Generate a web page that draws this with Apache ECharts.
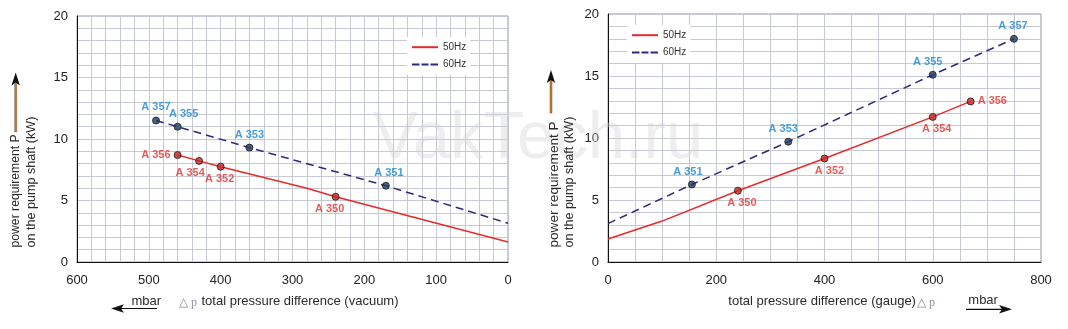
<!DOCTYPE html>
<html><head><meta charset="utf-8">
<script src="https://cdn.jsdelivr.net/npm/echarts@6/dist/echarts.min.js"></script>
<style>html,body{margin:0;padding:0;background:#fff}#c{width:1068px;height:329px}</style>
</head><body><div id="c"></div>
<script>
// ---- data ----
const vacTicks = [0,100,200,300,400,500,600];
const gaugeTicks = [0,200,400,600,800];
const powerTicks = [0,5,10,15,20];
const seriesNames = ['50Hz','60Hz'];
// vacuum chart (left)
const vac50Line = [[460,8.7],[430,8.22],[400,7.75],[280,6.0],[240,5.3],[0,1.62]];
const vac60Line = [[490,11.5],[460,11.0],[360,9.3],[170,6.2],[0,3.15]];
const vac50Names = ['A 356','A 354','A 352','A 350'];
const vac50X = [460,430,400,240];
const vac50Y = [8.7,8.22,7.75,5.3];
const vac60Names = ['A 357','A 355','A 353','A 351'];
const vac60X = [490,460,360,170];
const vac60Y = [11.5,11.0,9.3,6.2];
// gauge chart (right)
const gau50Line = [[0,1.85],[100,3.3],[240,5.75],[400,8.35],[600,11.7],[670,12.95]];
const gau60Line = [[0,3.1],[155,6.25],[333,9.7],[600,15.1],[750,18.0]];
const gau50Names = ['A 350','A 352','A 354','A 356'];
const gau50X = [240,400,600,670];
const gau50Y = [5.75,8.35,11.7,12.95];
const gau60Names = ['A 351','A 353','A 355','A 357'];
const gau60X = [155,333,600,750];
const gau60Y = [6.25,9.7,15.1,18.0];

// ---- styles ----
const RED = '#e52b2b', NAVY = '#2d2a7e', LBLUE = '#1a86d0', LRED = '#e03333';
const GRID = '#c6c9d1';
const FONT = '"Liberation Sans", Arial, sans-serif';
const labelStyle = {
  vac: {'A 357':{p:'top',o:[0,-1]}, 'A 355':{p:'top',o:[6,0]}, 'A 353':{p:'top',o:[0,0]}, 'A 351':{p:'top',o:[3,0]},
        'A 356':{p:'left',o:[0,0]}, 'A 354':{p:'bottom',o:[-9,0]}, 'A 352':{p:'bottom',o:[-1,0]}, 'A 350':{p:'bottom',o:[-6,0]}},
  gau: {'A 351':{p:'top',o:[-4,0]}, 'A 353':{p:'top',o:[-5,0]}, 'A 355':{p:'top',o:[-5,0]}, 'A 357':{p:'top',o:[-1,0]},
        'A 350':{p:'bottom',o:[4,0]}, 'A 352':{p:'bottom',o:[5,0]}, 'A 354':{p:'bottom',o:[4,0]}, 'A 356':{p:'right',o:[0,0]}}
};
function pts(names, xs, ys, key, lblColor, fill) {
  return names.map((n,i)=>({
    name:n, value:[xs[i],ys[i]],
    itemStyle:{color:fill, borderColor:'#1a1a1a', borderWidth:1},
    label:{show:true, formatter:n, position:labelStyle[key][n].p, offset:labelStyle[key][n].o,
      distance:3, color:lblColor, fontWeight:'bold', fontSize:11, fontFamily:FONT}
  }));
}
function xAx(idx, max, interval, minorN, inverse) {
  return {type:'value', gridIndex:idx, min:0, max:max, interval:interval, inverse:inverse,
    axisLine:{show:true, onZero:false, lineStyle:{color:'#111', width:1}},
    axisTick:{show:false},
    axisLabel:{fontSize:13, color:'#222', margin:12, fontFamily:FONT},
    splitLine:{show:true, lineStyle:{color:GRID, width:1}},
    minorTick:{show:false, splitNumber:minorN},
    minorSplitLine:{show:true, lineStyle:{color:GRID, width:1}}};
}
function yAx(idx) {
  return {type:'value', gridIndex:idx, min:powerTicks[0], max:powerTicks[powerTicks.length-1], interval:powerTicks[1]-powerTicks[0],
    axisLine:{show:true, onZero:false, lineStyle:{color:'#111', width:1}},
    axisTick:{show:false},
    axisLabel:{fontSize:13, color:'#222', margin:9, fontFamily:FONT},
    splitLine:{show:true, lineStyle:{color:GRID, width:1}},
    minorTick:{show:false, splitNumber:5},
    minorSplitLine:{show:true, lineStyle:{color:GRID, width:1}}};
}
function lineS(name, data, xi, dashed, color) {
  return {type:'line', name:name, xAxisIndex:xi, yAxisIndex:xi, data:data, symbol:'none',
    lineStyle:{color:color, width:1.5, type: dashed ? [8,5] : 'solid'}, itemStyle:{color:color}, z:3};
}
function scat(name, data, xi) {
  return {type:'scatter', name:name, xAxisIndex:xi, yAxisIndex:xi, data:data, symbolSize:7, z:4};
}
const ICON_SOLID = 'path://M0,0h26v2h-26z';
const ICON_DASH = 'path://M0,0h7.5v2h-7.5zM9.5,0h7v2h-7zM18.5,0h7.5v2h-7.5z';
const legendBase = {orient:'vertical', itemWidth:26, itemHeight:2, itemGap:5,
  backgroundColor:'#fff', padding:[4,4,4,5],
  data:[{name:seriesNames[0], icon:ICON_SOLID},{name:seriesNames[1], icon:ICON_DASH}],
  textStyle:{fontSize:10, color:'#333', fontFamily:FONT, lineHeight:12.4}};

const arrowHeadUp = (x,y)=>[[x,y],[x-4.2,y+13],[x,y+10],[x+4.2,y+13]];
const txt = (x,y,text,extra)=>Object.assign({type:'text', x:x, y:y, z:10,
  style:Object.assign({text:text, fill:'#2a2a2a', font:'13px '+FONT, textAlign:'left', textVerticalAlign:'middle'}, extra||{})});

const graphic = [
  {type:'text', x:373, y:140, z:1, silent:true,
   style:{text:'VakTech.ru', fill:'rgba(210,210,210,0.38)', font:'67px '+FONT, textAlign:'left', textVerticalAlign:'middle'}},
  // left y-axis name
  Object.assign(txt(15.3,247.5,'power requirement P',{font:'12.2px '+FONT}),{rotation:Math.PI/2}),
  Object.assign(txt(32,247.5,'on the pump shaft (kW)',{font:'12.6px '+FONT}),{rotation:Math.PI/2}),
  {type:'rect', z:10, shape:{x:14.7,y:82,width:2,height:50}, style:{fill:'#d9801f', stroke:'#333', lineWidth:0.4}},
  {type:'polygon', z:10, shape:{points:arrowHeadUp(15.7,72.5)}, style:{fill:'#111'}},
  // right y-axis name
  Object.assign(txt(554.3,247.5,'power requirement P',{font:'13.6px '+FONT}),{rotation:Math.PI/2}),
  Object.assign(txt(570,247.5,'on the pump shaft (kW)',{font:'12.6px '+FONT}),{rotation:Math.PI/2}),
  {type:'rect', z:10, shape:{x:550,y:80,width:2,height:33}, style:{fill:'#d9801f', stroke:'#333', lineWidth:0.4}},
  {type:'polygon', z:10, shape:{points:arrowHeadUp(551,70)}, style:{fill:'#111'}},
  // left x-axis name
  txt(131.5,301.5,'mbar'),
  {type:'line', z:10, shape:{x1:120,y1:308.5,x2:157,y2:308.5}, style:{stroke:'#111', lineWidth:1.2}},
  {type:'polygon', z:10, shape:{points:[[111,308.5],[124,304.3],[121,308.5],[124,312.7]]}, style:{fill:'#111'}},
  txt(179,302.5,'\u25B3 p',{fill:'#8a90a0', font:'12px "Liberation Serif", serif'}),
  txt(201.5,301.5,'total pressure difference (vacuum)'),
  // right x-axis name
  txt(728.3,301.5,'total pressure difference (gauge)'),
  txt(917,302.5,'\u25B3 p',{fill:'#8a90a0', font:'12px "Liberation Serif", serif'}),
  txt(968.3,300,'mbar'),
  {type:'line', z:10, shape:{x1:966,y1:309.3,x2:1003,y2:309.3}, style:{stroke:'#111', lineWidth:1.2}},
  {type:'polygon', z:10, shape:{points:[[1012,309.3],[999,305.1],[1002,309.3],[999,313.5]]}, style:{fill:'#111'}}
];

const option = {
  animation:false,
  textStyle:{fontFamily:FONT},
  grid:[
    {left:77, right:560, top:16, bottom:67, show:true, borderColor:'#9a9a9a', borderWidth:1, backgroundColor:'transparent'},
    {left:608, right:27, top:14, bottom:67, show:true, borderColor:'#9a9a9a', borderWidth:1, backgroundColor:'transparent'}
  ],
  xAxis:[xAx(0, vacTicks[vacTicks.length-1], vacTicks[1]-vacTicks[0], 5, true),
         xAx(1, gaugeTicks[gaugeTicks.length-1], gaugeTicks[1]-gaugeTicks[0], 4, false)],
  yAxis:[yAx(0), yAx(1)],
  legend:[Object.assign({left:407, top:37}, legendBase), Object.assign({left:627, top:25}, legendBase)],
  series:[
    lineS(seriesNames[0], vac50Line, 0, false, RED),
    lineS(seriesNames[1], vac60Line, 0, true, NAVY),
    scat('vac50pts', pts(vac50Names, vac50X, vac50Y, 'vac', LRED, '#c42424'), 0),
    scat('vac60pts', pts(vac60Names, vac60X, vac60Y, 'vac', LBLUE, '#1f3a68'), 0),
    lineS(seriesNames[0], gau50Line, 1, false, RED),
    lineS(seriesNames[1], gau60Line, 1, true, NAVY),
    scat('gau50pts', pts(gau50Names, gau50X, gau50Y, 'gau', LRED, '#c42424'), 1),
    scat('gau60pts', pts(gau60Names, gau60X, gau60Y, 'gau', LBLUE, '#1f3a68'), 1)
  ],
  graphic: graphic
};
const chart = echarts.init(document.getElementById('c'), null, {renderer:'canvas'});
chart.setOption(option);
</script></body></html>
